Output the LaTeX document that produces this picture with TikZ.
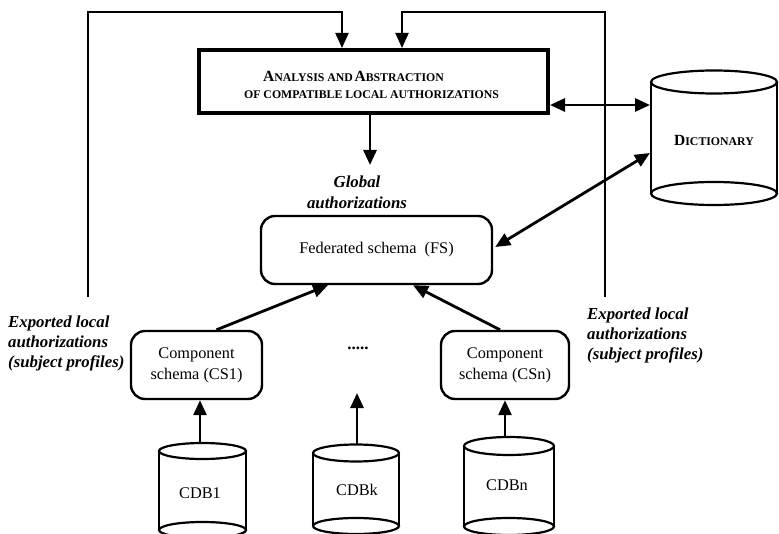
\documentclass[tikz,border=0pt]{standalone}
\usepackage{fontspec}
\setmainfont{Liberation Serif}
\usetikzlibrary{arrows.meta,calc}
\newcommand\BigL[1]{{\fontsize{15.5}{15.5}\selectfont #1}}
\newcommand\SmL[1]{{\fontsize{11.8}{11.8}\selectfont #1}}
\begin{document}
\begin{tikzpicture}[x=1pt,y=1pt,
  arr/.style={line width=2.8pt,-{Triangle[length=15pt,width=13pt]}},
  farr/.style={line width=2pt,-{Triangle[length=15pt,width=13pt]}},
  darr/.style={line width=2.8pt,{Triangle[length=15pt,width=13pt]}-{Triangle[length=15pt,width=13pt]}},
  rbox/.style={draw,line width=2.4pt,rounded corners=14pt,align=center,inner sep=0pt,font=\fontsize{16.3}{21}\selectfont},
  lab/.style={font=\fontsize{16.8}{20}\selectfont\bfseries\itshape,align=left,inner sep=0pt},
  cyl/.style={line width=2.2pt},
  txt/.style={font=\fontsize{16.3}{20}\selectfont,inner sep=0pt}
]
\useasboundingbox (0,0) rectangle (779,-534);

% top box
\node[draw,line width=4pt,minimum width=349pt,minimum height=63pt,inner sep=0pt] (top) at (373.5,-81.5) {};
\node[inner sep=0pt,align=left,font=\bfseries] (toptxt) at (371.5,-85)
 {\hspace*{19pt}\BigL{A}\SmL{NALYSIS AND}\,\BigL{A}\SmL{BSTRACTION}\\[5pt]
  \SmL{OF COMPATIBLE LOCAL AUTHORIZATIONS}};

% federated schema and components
\node[rbox,minimum width=231pt,minimum height=68pt] (fs) at (376.5,-250) {Federated schema\ \ (FS)};
\node[rbox,minimum width=131pt,minimum height=68pt] (cs1) at (196.5,-365) {Component\\schema (CS1)};
\node[rbox,minimum width=128pt,minimum height=68pt] (csn) at (505,-365) {Component\\schema (CSn)};

% labels
\node[lab,font=\fontsize{16.8}{21}\selectfont\bfseries\itshape,align=center] (glob) at (357,-192.5) {Global\\authorizations};
\node[lab,anchor=west] (ll) at (8,-343) {Exported local\\authorizations\\(subject profiles)};
\node[lab,anchor=west] (rl) at (587,-335) {Exported local\\authorizations\\(subject profiles)};
\node[txt,font=\fontsize{17}{20}\selectfont\bfseries] (dots) at (358,-348) {.....};

% dictionary cylinder
\draw[cyl] (651,-82) -- (651,-193) (777,-82) -- (777,-193);
\draw[cyl,fill=white] (714,-82) ellipse[x radius=63,y radius=11.5];
\draw[cyl] (714,-193.5) ellipse[x radius=63,y radius=11.5];
\node[inner sep=0pt,font=\bfseries] (dict) at (714,-140) {\BigL{D}\SmL{ICTIONARY}};
\coordinate (d1) at (650,-105);
\coordinate (d2) at (650,-153);

% CDB cylinders
\draw[cyl] (159,-451) -- (159,-530) (246,-451) -- (246,-530);
\draw[cyl] (202.5,-451) ellipse[x radius=43.5,y radius=8];
\draw[cyl] (202.5,-530) ellipse[x radius=43.5,y radius=8];
\node[txt] (cdb1) at (200,-493) {CDB1};
\coordinate (c1t) at (200,-443);

\draw[cyl] (313,-453) -- (313,-526) (399,-453) -- (399,-526);
\draw[cyl] (356,-453) ellipse[x radius=43,y radius=8.5];
\draw[cyl] (356,-526) ellipse[x radius=43,y radius=8];
\node[txt] (cdbk) at (357,-490) {CDBk};
\coordinate (ckt) at (357,-444.5);
\coordinate (ktip) at (357,-393);

\draw[cyl] (464,-446) -- (464,-526.5) (554,-446) -- (554,-526.5);
\draw[cyl] (509,-446) ellipse[x radius=45,y radius=9];
\draw[cyl] (509,-526.5) ellipse[x radius=45,y radius=8.5];
\node[txt] (cdbn) at (507,-485) {CDBn};
\coordinate (cnt) at (505,-437);

% connectors
\draw[arr] (c1t) -- (c1t |- cs1.south);
\draw[arr] (ckt) -- (ktip);
\draw[arr] (cnt) -- (cnt |- csn.south);
\draw[arr] ([xshift=20pt]cs1.north) -- ([xshift=-48.5pt]fs.south);
\draw[arr] ([xshift=-5pt]csn.north) -- ([xshift=36.5pt]fs.south);
\draw[darr] ([xshift=2pt,yshift=3pt]fs.east) -- (d2);
\draw[darr] ([yshift=-23.5pt]top.east) -- (d1);
\coordinate (g) at (370,-165);
\draw[arr] ([xshift=-3.5pt]top.south) -- (g);

% feedback lines
\coordinate (fl) at (88,-297);
\coordinate (fr) at (605,-297);
\coordinate (ltop) at (342,-12);
\coordinate (rtop) at (402,-12);
\draw[farr] (fl) |- (ltop) -- (ltop |- top.north);
\draw[farr] (fr) |- (rtop) -- (rtop |- top.north);
\end{tikzpicture}
\end{document}
